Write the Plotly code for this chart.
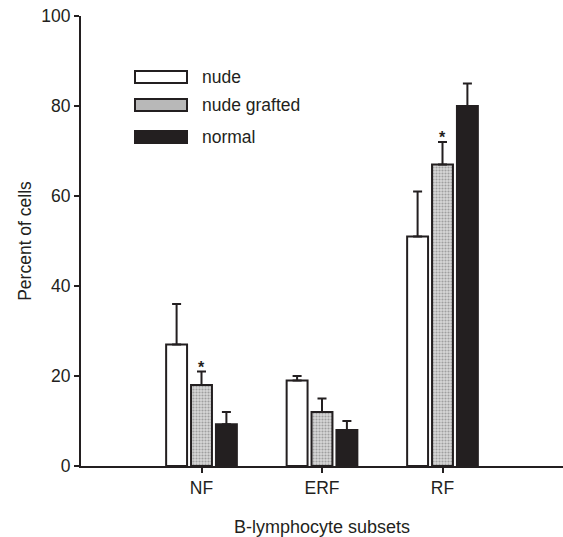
import plotly.graph_objects as go

categories = ["NF", "ERF", "RF"]
series_names = ["nude", "nude grafted", "normal"]
nude = [27, 19, 51]
nude_err = [9, 1, 10]
grafted = [18, 12, 67]
grafted_err = [3, 3, 5]
normal = [9.3, 8, 80]
normal_err = [2.7, 2, 5]
star_cats = ["NF", "RF"]
y_ticks = [0, 20, 40, 60, 80, 100]

INK = "#231f20"
FONT = "Liberation Sans, Arial, Helvetica, sans-serif"

W, H = 563, 537
ML, MR, MT, MB = 81, 0, 16, 71

fig = go.Figure()

common = dict(error_y=dict(type="data", symmetric=False, arrayminus=[0, 0, 0],
                           color=INK, thickness=2, width=4.5),
              showlegend=False)

fig.add_trace(go.Bar(x=categories, y=nude, name=series_names[0],
                     marker=dict(color="white", line=dict(color=INK, width=2)),
                     **{**common, "error_y": {**common["error_y"], "array": nude_err}}))
fig.add_trace(go.Bar(x=categories, y=grafted, name=series_names[1],
                     marker=dict(color="#d4d4d4", line=dict(color=INK, width=2),
                                 pattern=dict(shape=".", size=3, solidity=0.4,
                                              fgcolor="#666666", bgcolor="#d8d8d8")),
                     **{**common, "error_y": {**common["error_y"], "array": grafted_err}}))
fig.add_trace(go.Bar(x=categories, y=normal, name=series_names[2],
                     marker=dict(color=INK, line=dict(color=INK, width=2)),
                     **{**common, "error_y": {**common["error_y"], "array": normal_err}}))

# significance asterisks above the grafted bars
for c in star_cats:
    i = categories.index(c)
    fig.add_annotation(x=c, y=grafted[i] + grafted_err[i], xref="x", yref="y",
                       text="<b>*</b>", showarrow=False, xshift=0, yshift=-6,
                       yanchor="bottom", font=dict(size=16, color=INK, family=FONT))

# custom legend (boxes drawn in pixel-derived paper coords)
pw, ph = W - ML - MR, H - MT - MB
def px(x):
    return (x - ML) / pw
def py(y):
    return (H - MB - y) / ph

legend_rows = [77, 105, 137]
fills = ["white", "#b8b8b8", INK]
for name, yc, fc in zip(series_names, legend_rows, fills):
    fig.add_shape(type="rect", xref="paper", yref="paper",
                  x0=px(135), x1=px(187), y0=py(yc + 6), y1=py(yc - 6),
                  fillcolor=fc, line=dict(color=INK, width=2))
    fig.add_annotation(xref="paper", yref="paper", x=px(200), y=py(yc),
                       text=name, showarrow=False, xanchor="left", yanchor="middle",
                       font=dict(size=17.5, color=INK, family=FONT))

fig.update_layout(
    width=W, height=H,
    margin=dict(l=ML, r=MR, t=MT, b=MB, pad=0),
    paper_bgcolor="white", plot_bgcolor="white",
    barmode="group", bargap=0.38, bargroupgap=0.16,
    font=dict(family=FONT, size=17, color=INK),
)
fig.update_xaxes(
    type="category", range=[-1, 3],
    showline=True, linecolor=INK, linewidth=2,
    ticks="outside", ticklen=5, tickwidth=2, tickcolor=INK,
    showgrid=False, zeroline=False,
    tickfont=dict(size=17.5, family=FONT, color=INK),
    title=dict(text="B-lymphocyte subsets", standoff=24,
               font=dict(size=18, family=FONT, color=INK)),
)
fig.update_yaxes(
    range=[0, 100], tickvals=y_ticks,
    showline=True, linecolor=INK, linewidth=2,
    ticks="outside", ticklen=5, tickwidth=2, tickcolor=INK,
    showgrid=False, zeroline=False,
    tickfont=dict(size=17.5, family=FONT, color=INK),
    title=dict(text="Percent of cells", standoff=5,
               font=dict(size=17.5, family=FONT, color=INK)),
)

fig.write_html("out.html")
